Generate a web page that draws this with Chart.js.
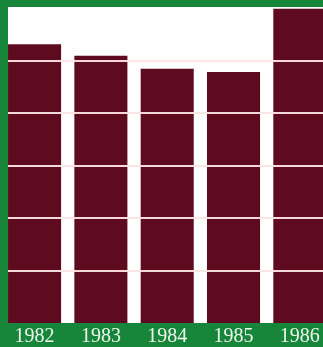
<!DOCTYPE html>
<html>
<head>
<meta charset="utf-8">
<script src="https://cdn.jsdelivr.net/npm/chart.js@4.4.1/dist/chart.umd.min.js"></script>
<style>
  html, body { margin: 0; padding: 0; background: #17863a; overflow: hidden; }
  canvas { display: block; }
</style>
</head>
<body>
<canvas id="yearsChart" width="333" height="347"></canvas>
<script>
const years = ['1982', '1983', '1984', '1985', '1986'];
const values = [5.32, 5.1, 4.85, 4.79, 6.0];
const gridTicks = [1, 2, 3, 4, 5];

const GREEN = '#17863a';
const MAROON = '#5e0a1f';
const PANEL_LEFT = 8;

// green frame with a white panel behind the bars
const panel = {
  id: 'panel',
  beforeDraw(chart) {
    const { ctx, chartArea } = chart;
    ctx.save();
    ctx.fillStyle = GREEN;
    ctx.fillRect(0, 0, chart.width, chart.height);
    ctx.fillStyle = '#ffffff';
    ctx.fillRect(PANEL_LEFT, 7, chart.width - PANEL_LEFT, chartArea.bottom - 7);
    ctx.restore();
  }
};

// horizontal rules run across the bars, so paint them after the datasets
const rules = {
  id: 'rules',
  afterDatasetsDraw(chart) {
    const { ctx, chartArea, scales } = chart;
    ctx.save();
    ctx.strokeStyle = 'rgba(255,228,228,0.95)';
    ctx.lineWidth = 2;
    gridTicks.forEach(v => {
      const y = Math.round(scales.y.getPixelForValue(v));
      ctx.beginPath();
      ctx.moveTo(PANEL_LEFT, y);
      ctx.lineTo(chartArea.right, y);
      ctx.stroke();
    });
    ctx.restore();
  }
};

new Chart(document.getElementById('yearsChart'), {
  type: 'bar',
  data: {
    labels: years,
    datasets: [{
      data: values,
      backgroundColor: MAROON,
      borderWidth: 0,
      barPercentage: 0.8,
      categoryPercentage: 1.0
    }]
  },
  options: {
    responsive: false,
    animation: false,
    layout: { padding: { left: 1.4, right: 0, top: 8.6, bottom: 0 } },
    plugins: { legend: { display: false }, tooltip: { enabled: false } },
    scales: {
      x: {
        grid: { display: false },
        border: { display: false },
        afterFit(scale) { scale.height = 24; },
        ticks: {
          color: '#eef6ee',
          padding: -4,
          font: { family: "'Liberation Serif', 'DejaVu Serif', serif", size: 20, lineHeight: 1 }
        }
      },
      y: {
        min: 0,
        max: 6,
        display: false
      }
    }
  },
  plugins: [panel, rules]
});
</script>
</body>
</html>
